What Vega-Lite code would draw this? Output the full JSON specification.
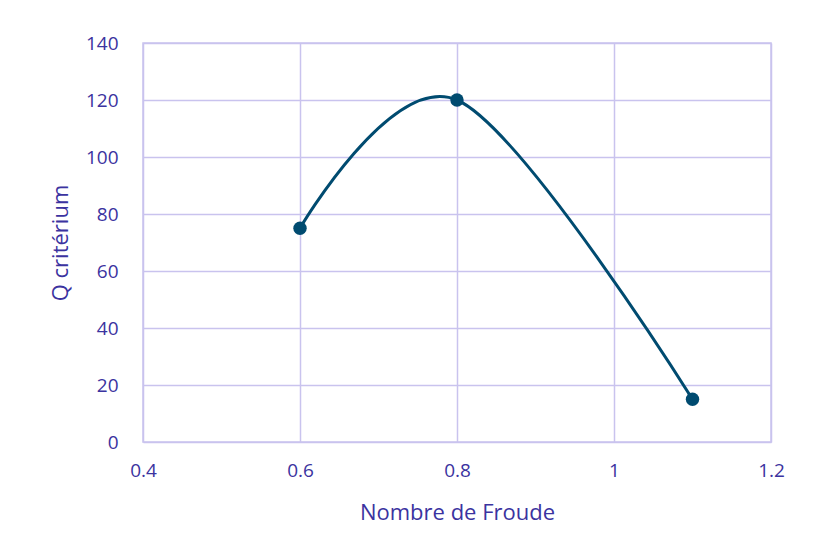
{
  "$schema": "https://vega.github.io/schema/vega-lite/v6.json",
  "width": 628,
  "height": 399,
  "autosize": {"type": "none"},
  "padding": {"left": 143, "top": 43, "right": 48, "bottom": 113},
  "background": "white",
  "data": {"values": [
    {"froude": 0.6, "q": 75},
    {"froude": 0.8, "q": 120},
    {"froude": 1.1, "q": 15}
  ]},
  "encoding": {
    "x": {"field": "froude", "type": "quantitative",
      "scale": {"domain": [0.4, 1.2], "nice": false, "zero": false},
      "axis": {"values": [0.4, 0.6, 0.8, 1.0, 1.2], "labelExpr": "datum.value == 1 ? '1' : format(datum.value, '.1f')",
        "title": "Nombre de Froude", "titlePadding": 22}},
    "y": {"field": "q", "type": "quantitative",
      "scale": {"domain": [0, 140], "nice": false},
      "axis": {"values": [0, 20, 40, 60, 80, 100, 120, 140], "title": "Q critérium", "titlePadding": 13}}
  },
  "layer": [
    {"mark": {"type": "line", "interpolate": "cardinal", "color": "#004B70", "strokeWidth": 3}},
    {"mark": {"type": "point", "filled": true, "color": "#004B70", "opacity": 1, "size": 180}}
  ],
  "config": {
    "view": {"stroke": "#C9C3EE", "strokeWidth": 1.5},
    "axis": {
      "grid": true, "gridColor": "#C9C3EE", "gridWidth": 1.5,
      "domain": false, "ticks": false, "labelFlush": false,
      "labelFont": "Open Sans", "labelFontSize": 19, "labelColor": "#3B33A0",
      "titleFont": "Open Sans", "titleFontSize": 22, "titleFontWeight": "normal", "titleColor": "#3B33A0"
    },
    "axisX": {"labelPadding": 19},
    "axisY": {"labelPadding": 25}
  }
}
